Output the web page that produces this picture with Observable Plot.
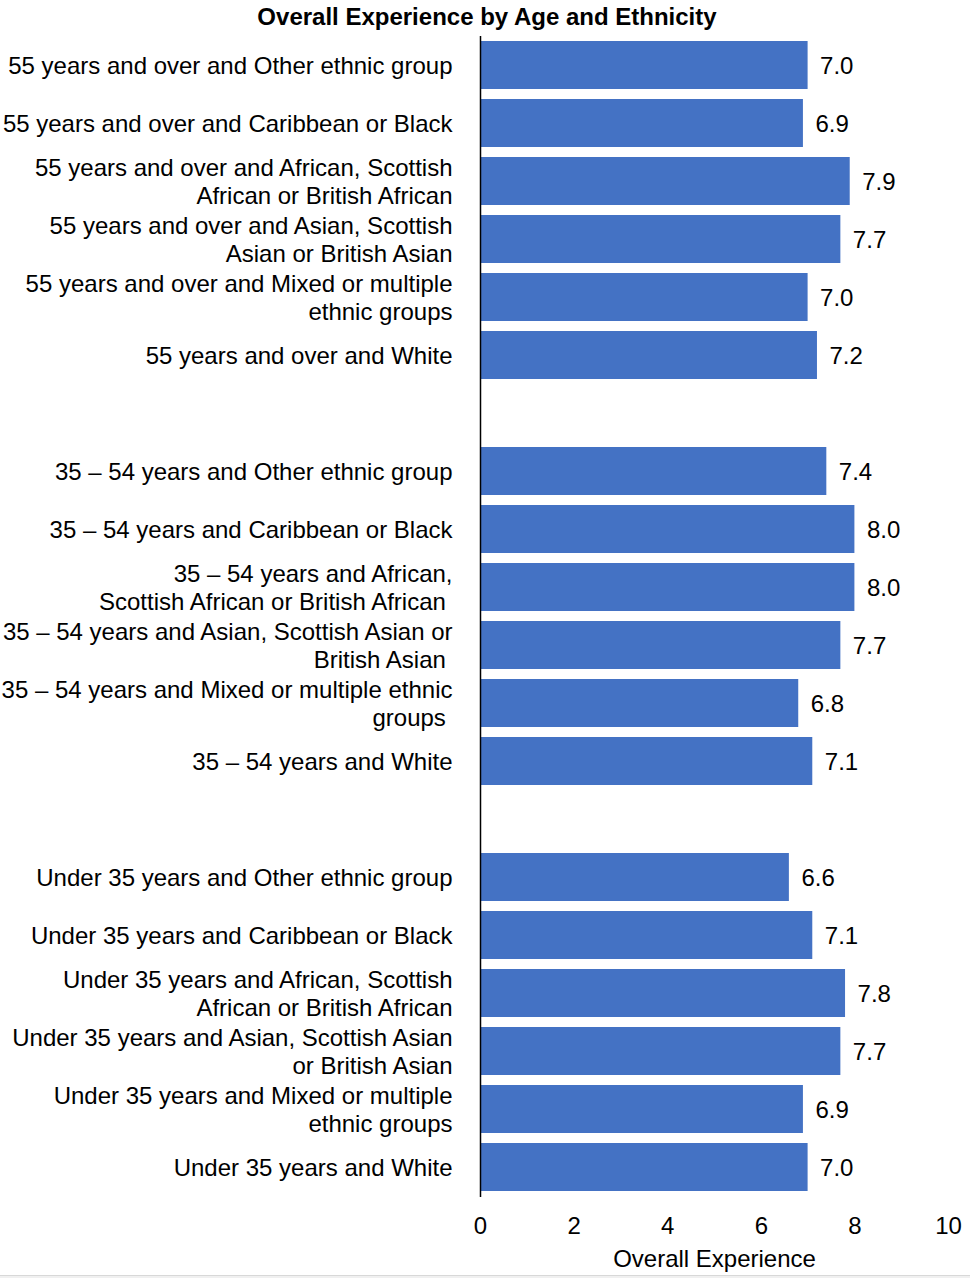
<!DOCTYPE html>
<html><head><meta charset="utf-8">
<script src="https://cdn.jsdelivr.net/npm/d3@7"></script>
<script src="https://cdn.jsdelivr.net/npm/@observablehq/plot@0.6"></script>
<style>
html,body{margin:0;padding:0;background:#fff;}
body{width:970px;height:1278px;overflow:hidden;position:relative;font-family:"Liberation Sans",Arial,sans-serif;}
#title{height:34px;line-height:34px;text-align:center;font-weight:bold;font-size:24px;color:#000;padding-left:4px;}
#chart svg{display:block;}
#edge{position:absolute;left:0;right:0;top:1275px;height:3px;background:#f0f0f0;border-top:1px solid #d8d8d8;}
</style></head><body>
<div id="title">Overall Experience by Age and Ethnicity</div>
<div id="chart"></div>
<div id="edge"></div>
<script>
const over55Labels = [
  "55 years and over and Other ethnic group",
  "55 years and over and Caribbean or Black",
  "55 years and over and African, Scottish\nAfrican or British African",
  "55 years and over and Asian, Scottish\nAsian or British Asian",
  "55 years and over and Mixed or multiple\nethnic groups",
  "55 years and over and White"
];
const over55Values = [7.0, 6.9, 7.9, 7.7, 7.0, 7.2];

const mid3554Labels = [
  "35 \u2013 54 years and Other ethnic group",
  "35 \u2013 54 years and Caribbean or Black",
  "35 \u2013 54 years and African,\nScottish African or British African\u00a0",
  "35 \u2013 54 years and Asian, Scottish Asian or\nBritish Asian\u00a0",
  "35 \u2013 54 years and Mixed or multiple ethnic\ngroups\u00a0",
  "35 \u2013 54 years and White"
];
const mid3554Values = [7.4, 8.0, 8.0, 7.7, 6.8, 7.1];

const under35Labels = [
  "Under 35 years and Other ethnic group",
  "Under 35 years and Caribbean or Black",
  "Under 35 years and African, Scottish\nAfrican or British African",
  "Under 35 years and Asian, Scottish Asian\nor British Asian",
  "Under 35 years and Mixed or multiple\nethnic groups",
  "Under 35 years and White"
];
const under35Values = [6.6, 7.1, 7.8, 7.7, 6.9, 7.0];

const xTicks = [0, 2, 4, 6, 8, 10];
const gapKeys = ["gap-1", "gap-2"];

const rows = [
  ...over55Labels.map((c, i) => ({category: c, value: over55Values[i]})),
  ...mid3554Labels.map((c, i) => ({category: c, value: mid3554Values[i]})),
  ...under35Labels.map((c, i) => ({category: c, value: under35Values[i]}))
];
const yDomain = [...over55Labels, gapKeys[0], ...mid3554Labels, gapKeys[1], ...under35Labels];

const font = "Liberation Sans, Arial, sans-serif";
const fs = 24;
const chart = Plot.plot({
  width: 970,
  height: 1240,
  marginTop: 2,
  marginBottom: 77,
  marginLeft: 480,
  marginRight: 22,
  style: {fontFamily: font, fontSize: fs + "px", color: "#000", background: "#fff"},
  x: {domain: [0, 10], ticks: xTicks, label: "Overall Experience", labelAnchor: "center", labelArrow: false},
  y: {domain: yDomain, paddingInner: 0.172, paddingOuter: 0.086, label: null},
  marks: [
    Plot.barX(rows, {x: "value", y: "category", fill: "#4472C4"}),
    Plot.text(rows, {x: "value", y: "category", text: d => d.value.toFixed(1), dx: 12, dy: 1, textAnchor: "start", fontSize: fs, fill: "#000"}),
    Plot.ruleX([0], {stroke: "#000", strokeWidth: 1.5}),
    Plot.axisY({tickSize: 0, tickPadding: 28, fontSize: fs, lineHeight: 28 / fs, fill: "#000",
      tickFormat: d => gapKeys.includes(d) ? "" : d, label: null}),
    Plot.axisX({ticks: xTicks, tickSize: 0, tickPadding: 19, fontSize: fs, fill: "#000",
      label: "Overall Experience", labelAnchor: "center", labelArrow: false, labelOffset: 69})
  ]
});
document.getElementById("chart").appendChild(chart);
</script>
</body></html>
